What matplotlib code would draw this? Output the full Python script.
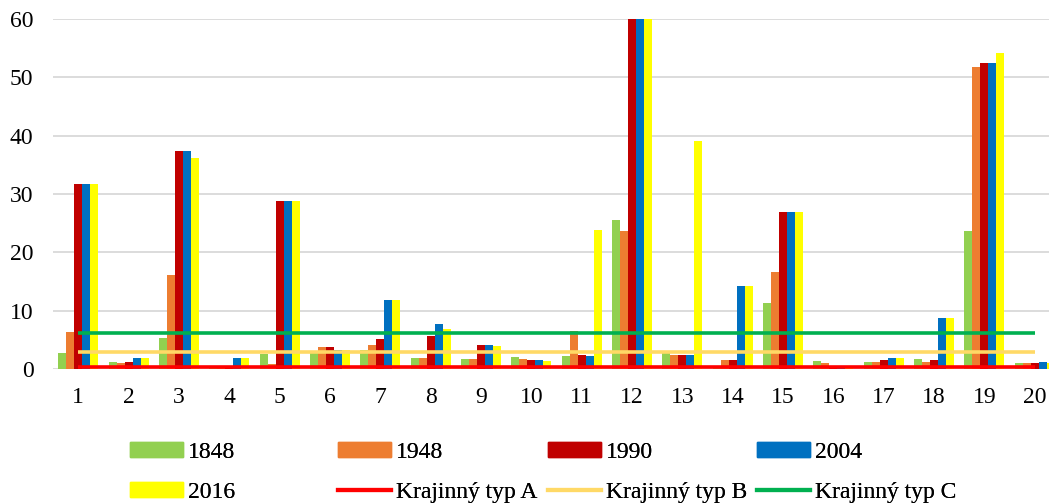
import numpy as np
import matplotlib
matplotlib.use("Agg")
import matplotlib.pyplot as plt
from matplotlib.patches import Patch
from matplotlib.lines import Line2D

plt.rcParams['font.family'] = ['Liberation Serif', 'DejaVu Serif']

categories = [str(i) for i in range(1, 21)]
years = ["1848", "1948", "1990", "2004", "2016"]

v1848 = [2.7, 1.25, 5.25, 0.2, 2.5, 2.7, 3.3, 1.85, 1.8, 2.1, 2.25, 25.5, 2.9, 0.2, 11.4, 1.4, 1.25, 1.7, 23.7, 1.0]
v1948 = [6.3, 1.1, 16.2, 0.2, 0.9, 3.8, 4.2, 1.85, 1.8, 1.65, 6.6, 23.6, 2.35, 1.6, 16.7, 1.1, 1.25, 1.25, 51.7, 1.0]
v1990 = [31.7, 1.2, 37.3, 0.2, 28.8, 3.7, 5.1, 5.6, 4.1, 1.6, 2.4, 60.0, 2.4, 1.6, 27.0, 0.6, 1.55, 1.5, 52.5, 1.1]
v2004 = [31.7, 1.95, 37.3, 1.95, 28.8, 3.2, 11.8, 7.7, 4.1, 1.55, 2.2, 60.0, 2.4, 14.3, 27.0, 0.6, 1.85, 8.8, 52.5, 1.15]
v2016 = [31.7, 1.95, 36.1, 1.85, 28.8, 3.2, 11.8, 6.9, 4.0, 1.4, 23.8, 60.0, 39.1, 14.3, 27.0, 0.3, 1.85, 8.7, 54.2, 1.1]

typ_A = [0.35] * 20
typ_B = [2.85] * 20
typ_C = [6.2] * 20
line_labels = ["Krajinný typ A", "Krajinný typ B", "Krajinný typ C"]

bar_colors = ["#92D050", "#ED7D31", "#C00000", "#0070C0", "#FFFF00"]
line_colors = ["#FF0000", "#FFD966", "#00B050"]

fig = plt.figure(figsize=(10.49, 5.04), dpi=100)
ax = fig.add_axes([53 / 1049, 135 / 504, 1007 / 1049, 350 / 504])

x = np.arange(1, 21)
w = 0.159
series = [v1848, v1948, v1990, v2004, v2016]
for i, (vals, c) in enumerate(zip(series, bar_colors)):
    ax.bar(x + (i - 2) * w, vals, width=w, color=c, linewidth=0, zorder=2)

for vals, c in zip([typ_A, typ_B, typ_C], line_colors):
    ax.plot(x, vals, color=c, linewidth=2.6, zorder=3, solid_capstyle='butt')

ax.set_xlim(0.5, 20.5)
ax.set_ylim(0, 60)
ax.set_yticks(range(0, 61, 10))
ax.set_xticks(x)
ax.set_xticklabels(categories)
ax.grid(axis='y', color='#D9D9D9', linewidth=1.3, zorder=0)
ax.set_axisbelow(True)
for s in ax.spines.values():
    s.set_visible(False)
ax.tick_params(axis='y', length=0, pad=14, labelsize=17)
ax.tick_params(axis='x', length=0, pad=13, labelsize=17)

# legend: 4 columns x 2 rows, uniform spacing like the original
col_x = [130, 338, 548, 757]
entries = [
    [(Patch(color=bar_colors[0]), years[0]), (Patch(color=bar_colors[4]), years[4])],
    [(Patch(color=bar_colors[1]), years[1]), (Line2D([], [], color=line_colors[0], lw=3), line_labels[0])],
    [(Patch(color=bar_colors[2]), years[2]), (Line2D([], [], color=line_colors[1], lw=3), line_labels[1])],
    [(Patch(color=bar_colors[3]), years[3]), (Line2D([], [], color=line_colors[2], lw=3), line_labels[2])],
]
for cx, col in zip(col_x, entries):
    leg = fig.legend([h for h, _ in col], [l for _, l in col],
                     loc='upper left', bbox_to_anchor=(cx / 1049, 1 - 442 / 504),
                     frameon=False, fontsize=17, handlelength=2.24, handleheight=0.6,
                     handletextpad=0.2, labelspacing=0.79, borderpad=0, borderaxespad=0)
    fig.add_artist(leg)

fig.savefig("out.png", dpi=100)
